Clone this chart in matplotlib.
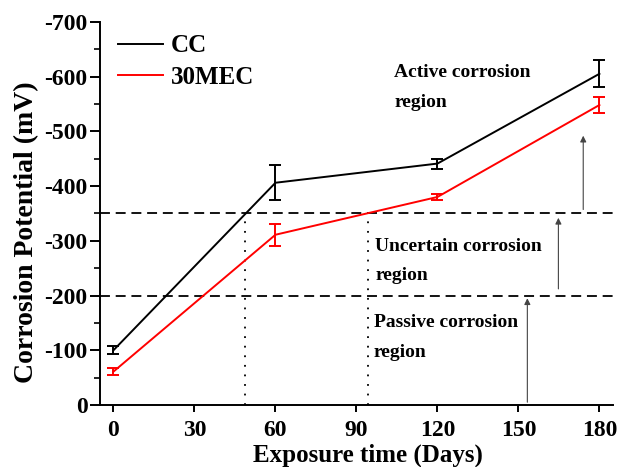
import numpy as np
import matplotlib.pyplot as plt
from matplotlib.lines import Line2D
from matplotlib.ticker import MultipleLocator, FuncFormatter

plt.rcParams['font.family'] = ['Liberation Serif', 'DejaVu Serif']
plt.rcParams['font.weight'] = 'bold'

# Exposure times and open circuit potentials
days = [0, 60, 120, 180]
cc_mean = [-100, -406, -441, -605]
cc_err = [7, 32, 9, 25]
mec_mean = [-61, -311, -380, -548]
mec_err = [7, 20, 6, 14]

# Thresholds separating the corrosion regions and where the dotted guides sit
thresholds = [-350, -200]
crossings = [48.7, 94.2]

fig = plt.figure(figsize=(6.21, 4.67), dpi=100)
ax = fig.add_axes([0.161, 0.1328, 0.826, 0.8205])

ax.errorbar(days, cc_mean, yerr=cc_err, color='black', lw=1.4,
            capsize=4, capthick=1.4, elinewidth=1.4)
ax.errorbar(days, mec_mean, yerr=mec_err, color='red', lw=1.4,
            capsize=4, capthick=1.4, elinewidth=1.4)

for t in thresholds:
    ax.axhline(t, color='black', lw=1.3, ls=(0, (5.5, 3.2)), zorder=1)

for c in crossings:
    ax.plot([c, c], [0, thresholds[0]], color='black', lw=1.3,
            ls=(0, (1, 4.3)), zorder=1)

# Arrows pointing up into each region
arrow_kw = dict(arrowstyle='-|>', color='#444444', lw=0.8, mutation_scale=9)
ax.annotate('', xy=(153.3, -200), xytext=(153.3, 0), arrowprops=arrow_kw)
ax.annotate('', xy=(164.8, -347), xytext=(164.8, -207), arrowprops=arrow_kw)
ax.annotate('', xy=(174, -497), xytext=(174, -352), arrowprops=arrow_kw)

region_kw = dict(fontsize=14, fontweight='bold', va='center', ha='left',
                 linespacing=1.95)
ax.text(104, -580, 'Active corrosion\nregion', **region_kw)
ax.text(97, -263, 'Uncertain corrosion\nregion', **region_kw)
ax.text(96.5, -123, 'Passive corrosion\nregion', **region_kw)

ax.set_xlim(-5, 185)
ax.set_ylim(0, -700)
ax.xaxis.set_major_locator(MultipleLocator(30))
ax.yaxis.set_major_locator(MultipleLocator(100))
ax.yaxis.set_minor_locator(MultipleLocator(50))
ax.yaxis.set_major_formatter(FuncFormatter(lambda v, p: f"{int(v)}"))

for side in ['top', 'right']:
    ax.spines[side].set_visible(False)
for side in ['left', 'bottom']:
    ax.spines[side].set_linewidth(1.4)

ax.tick_params(axis='both', which='major', direction='out', width=1.4,
               labelsize=17)
ax.tick_params(axis='y', which='major', length=7, pad=2)
ax.tick_params(axis='x', which='major', length=5, pad=6)
ax.tick_params(axis='y', which='minor', direction='out', length=4, width=1.2)
for lab in ax.get_xticklabels() + ax.get_yticklabels():
    lab.set_fontweight('bold')

ax.set_xlabel('Exposure time (Days)', fontsize=18, fontweight='bold',
              labelpad=2)
ax.set_ylabel('Corrosion Potential (mV)', fontsize=20, fontweight='bold',
              labelpad=4)
ax.xaxis.label.set_x(0.522)
ax.yaxis.label.set_y(0.452)

# Legend shows plain lines, without the error bar glyphs
handles = [Line2D([], [], color='black', lw=1.4),
           Line2D([], [], color='red', lw=1.4)]
leg = ax.legend(handles, ['CC', '30MEC'], loc='upper left', frameon=False,
                fontsize=18, handlelength=1.8, handletextpad=0.3,
                borderaxespad=0.1, labelspacing=0.35,
                bbox_to_anchor=(0.011, 1.0))
for txt in leg.get_texts():
    txt.set_fontweight('bold')

fig.savefig('out.png', dpi=100)
